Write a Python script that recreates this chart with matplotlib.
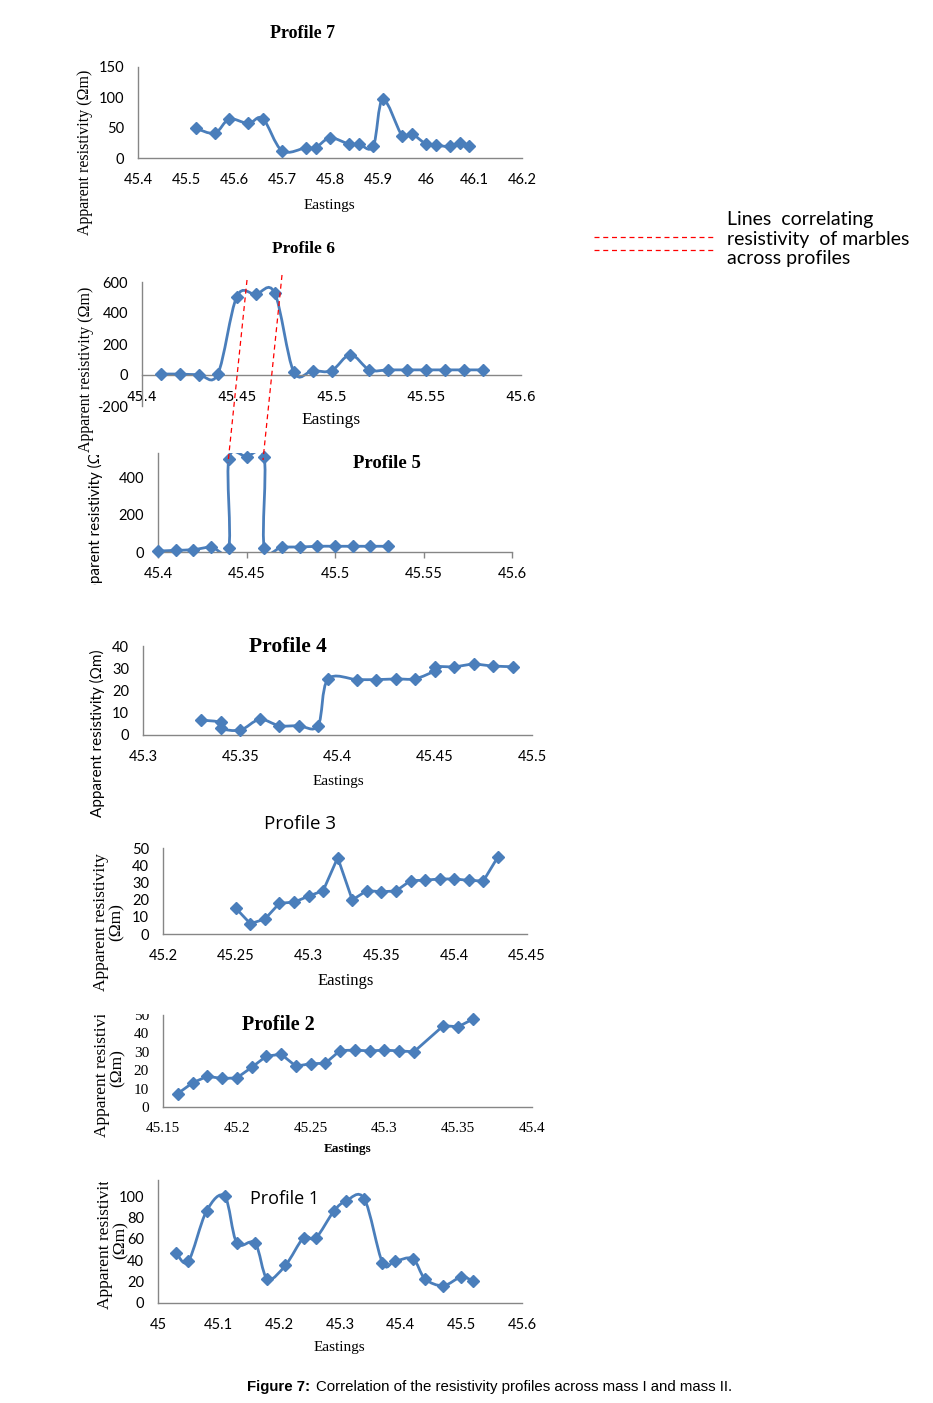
import numpy as np
import matplotlib
matplotlib.use("Agg")
import matplotlib.pyplot as plt
from matplotlib.path import Path
from matplotlib.patches import PathPatch
from matplotlib.lines import Line2D
from matplotlib.ticker import FixedLocator, FuncFormatter
from matplotlib.transforms import Bbox, TransformedBbox

# ------------------------------ data ------------------------------
# Profile 7
x7 = [45.52, 45.56, 45.59, 45.63, 45.66, 45.70, 45.75, 45.77, 45.80, 45.84,
      45.86, 45.89, 45.91, 45.95, 45.97, 46.00, 46.02, 46.05, 46.07, 46.09]
y7 = [49, 41, 64, 57, 65, 12, 17, 17, 33, 23, 23, 19, 97, 37, 40, 23, 21, 19, 24, 20]
xt7 = [45.4, 45.5, 45.6, 45.7, 45.8, 45.9, 46.0, 46.1, 46.2]
yt7 = [0, 50, 100, 150]

# Profile 6
x6 = [45.41, 45.42, 45.43, 45.44, 45.45, 45.46, 45.47, 45.48, 45.49,
      45.50, 45.51, 45.52, 45.53, 45.54, 45.55, 45.56, 45.57, 45.58]
y6 = [6, 6, 2, 6, 505, 520, 530, 22, 28, 28, 131, 33, 33, 33, 33, 33, 33, 33]
xt6 = [45.4, 45.45, 45.5, 45.55, 45.6]
yt6 = [-200, 0, 200, 400, 600]

# Profile 5
x5 = [45.40, 45.41, 45.42, 45.43, 45.44, 45.44, 45.45, 45.46, 45.46,
      45.47, 45.48, 45.49, 45.50, 45.51, 45.52, 45.53]
y5 = [5, 9, 13, 27, 22, 504, 516, 512, 24, 27, 27, 31, 31, 31, 31, 31]
xt5 = [45.4, 45.45, 45.5, 45.55, 45.6]
yt5 = [0, 200, 400]

# Profile 4
x4 = [45.33, 45.34, 45.34, 45.35, 45.36, 45.37, 45.38, 45.39, 45.395, 45.41,
      45.42, 45.43, 45.44, 45.45, 45.45, 45.46, 45.47, 45.48, 45.49]
y4 = [6.7, 5.7, 3.0, 2.2, 7.0, 4.2, 4.2, 4.2, 25.0, 24.9,
      24.9, 25.2, 25.3, 28.9, 30.7, 30.7, 31.8, 31.0, 30.7]
xt4 = [45.3, 45.35, 45.4, 45.45, 45.5]
yt4 = [0, 10, 20, 30, 40]

# Profile 3
x3 = [45.25, 45.26, 45.27, 45.28, 45.29, 45.30, 45.31, 45.32, 45.33, 45.34,
      45.35, 45.36, 45.37, 45.38, 45.39, 45.40, 45.41, 45.42, 45.43]
y3 = [15, 6, 8.7, 17.9, 18.5, 22, 25.2, 44.4, 19.8, 25.2,
      24.6, 25, 31, 31.3, 32, 32, 31.2, 30.8, 44.8]
xt3 = [45.2, 45.25, 45.3, 45.35, 45.4, 45.45]
yt3 = [0, 10, 20, 30, 40, 50]

# Profile 2
x2 = [45.16, 45.17, 45.18, 45.19, 45.20, 45.21, 45.22, 45.23, 45.24, 45.25,
      45.26, 45.27, 45.28, 45.29, 45.30, 45.31, 45.32, 45.34, 45.35, 45.36]
y2 = [7.3, 13.1, 16.7, 15.5, 15.8, 21.5, 27.6, 28.7, 22.2, 23.5,
      23.8, 30.7, 30.9, 30.5, 30.9, 30.5, 30, 44.2, 43.6, 47.8]
xt2 = [45.15, 45.2, 45.25, 45.3, 45.35, 45.4]
yt2 = [0, 10, 20, 30, 40, 50]

# Profile 1
x1 = [45.03, 45.05, 45.08, 45.11, 45.13, 45.16, 45.18, 45.21, 45.24, 45.26,
      45.29, 45.31, 45.34, 45.37, 45.39, 45.42, 45.44, 45.47, 45.50, 45.52]
y1 = [47, 39, 86, 99.7, 56, 56, 22.7, 35.2, 61, 60.7,
      86, 95.3, 97.5, 37.7, 39, 41.4, 22.7, 16.2, 24.3, 20.2]
xt1 = [45.0, 45.1, 45.2, 45.3, 45.4, 45.5, 45.6]
yt1 = [0, 20, 40, 60, 80, 100]

# ------------------------------ style ------------------------------
BLUE = "#4A7EBB"
GREY = "#868686"
SANS = "Lato"
SERIF = "Liberation Serif"
W, H = 933, 1403

fig = plt.figure(figsize=(W / 100, H / 100), dpi=100)
fig.patch.set_facecolor("white")


def add_ax(x0, ytop, x1, ybot):
    # axes placed by pixel box of the reference
    return fig.add_axes([x0 / W, 1 - ybot / H, (x1 - x0) / W, (ybot - ytop) / H])


def ftext(x, y, s, **kw):
    kw.setdefault("ha", "center")
    kw.setdefault("va", "center")
    return fig.text(x / W, 1 - y / H, s, **kw)


def clip_to(t, x0, ytop, x1, ybot):
    box = Bbox.from_extents(x0 / W, 1 - ybot / H, x1 / W, 1 - ytop / H)
    t.set_clip_box(TransformedBbox(box, fig.transFigure))
    t.set_clip_on(True)


def smooth_path(xs, ys):
    # Excel-like smoothed line: Catmull-Rom segments as cubic Beziers
    pts = np.column_stack([xs, ys]).astype(float)
    n = len(pts)
    verts = [pts[0]]
    codes = [Path.MOVETO]
    for i in range(n - 1):
        p0 = pts[max(i - 1, 0)]
        p1 = pts[i]
        p2 = pts[i + 1]
        p3 = pts[min(i + 2, n - 1)]
        verts += [p1 + (p2 - p0) / 6, p2 - (p3 - p1) / 6, p2]
        codes += [Path.CURVE4] * 3
    return Path(verts, codes)


def style_ax(ax, xt, yt, xlim, ylim, font=SANS, size=10.5, xtick_len=0):
    ax.set_xlim(*xlim)
    ax.set_ylim(*ylim)
    for s in ["top", "right"]:
        ax.spines[s].set_visible(False)
    for s in ["left", "bottom"]:
        ax.spines[s].set_color(GREY)
        ax.spines[s].set_linewidth(1)
    ax.xaxis.set_major_locator(FixedLocator(xt))
    ax.yaxis.set_major_locator(FixedLocator(yt))
    fmt = FuncFormatter(lambda v, p: f"{v:g}")
    ax.xaxis.set_major_formatter(fmt)
    ax.yaxis.set_major_formatter(fmt)
    ax.tick_params(axis="x", length=xtick_len, width=1, color=GREY, pad=11 - xtick_len)
    ax.tick_params(axis="y", length=0, pad=10)
    for lab in ax.get_xticklabels() + ax.get_yticklabels():
        lab.set_fontfamily(font)
        lab.set_fontsize(size)
    ax.patch.set_alpha(0)


def draw(ax, xs, ys, smooth=True):
    if smooth:
        ax.add_patch(PathPatch(smooth_path(xs, ys), fill=False, ec=BLUE, lw=2, zorder=2))
    else:
        ax.plot(xs, ys, color=BLUE, lw=2, zorder=2)
    ax.plot(xs, ys, "D", color=BLUE, ms=6, zorder=3, clip_on=False)


# ------------------------------ Profile 7 ------------------------------
ax7 = add_ax(138, 67, 522, 158)
style_ax(ax7, xt7, yt7, (45.4, 46.2), (0, 150))
draw(ax7, x7, y7)
ftext(303, 33, "Profile 7", family=SERIF, weight="bold", fontsize=13)
ftext(329, 205, "Eastings", family=SERIF, fontsize=11)
ftext(85, 152, "Apparent resistivity (\u03a9m)", family=SERIF, fontsize=11.5, rotation=90)

# ------------------------------ Profile 6 ------------------------------
ax6 = add_ax(142, 282, 521, 406)
style_ax(ax6, xt6, yt6, (45.4, 45.6), (-200, 600))
ax6.spines["bottom"].set_position(("data", 0))
draw(ax6, x6, y6)
ftext(303, 249, "Profile 6", family=SERIF, weight="bold", fontsize=12.5)
ftext(331, 420, "Eastings", family=SERIF, fontsize=12.5)
ftext(86, 369, "Apparent resistivity (\u03a9m)", family=SERIF, fontsize=11.5, rotation=90)

# ------------------------------ Profile 5 ------------------------------
ax5 = add_ax(158, 453, 512, 552)
style_ax(ax5, xt5, yt5, (45.4, 45.6), (0, 535), xtick_len=4)
draw(ax5, x5, y5)
ftext(387, 464, "Profile 5", family=SERIF, weight="bold", fontsize=13.5)
t5 = ftext(95, 518, "Apparent resistivity (\u03a9m)", family=SANS, fontsize=11, rotation=90)
clip_to(t5, 80, 455, 110, 585)

# ------------------------------ Profile 4 ------------------------------
ax4 = add_ax(143, 646, 532, 735)
style_ax(ax4, xt4, yt4, (45.3, 45.5), (0, 40))
draw(ax4, x4, y4)
ftext(288, 647, "Profile 4", family=SERIF, weight="bold", fontsize=15.5)
ftext(338, 781, "Eastings", family=SERIF, fontsize=11)
ftext(97, 733, "Apparent resistivity (\u03a9m)", family=SANS, fontsize=11, rotation=90)

# ------------------------------ Profile 3 ------------------------------
ax3 = add_ax(163, 848, 527, 934)
style_ax(ax3, xt3, yt3, (45.2, 45.45), (0, 50))
draw(ax3, x3, y3, smooth=False)
ftext(300, 824, "Profile 3", family="Open Sans", fontsize=13.5)
ftext(346, 981, "Eastings", family=SERIF, fontsize=12)
ftext(109, 922, "Apparent resistivity\n(\u03a9m)", family=SERIF, fontsize=12.5,
      rotation=90, linespacing=1.0, multialignment="center")

# ------------------------------ Profile 2 ------------------------------
ax2 = add_ax(163, 1015, 532, 1107)
style_ax(ax2, xt2, yt2, (45.15, 45.4), (0, 50), font=SERIF, size=11)
for lab in ax2.get_yticklabels():
    clip_to(lab, 100, 1014, 170, 1130)
draw(ax2, x2, y2, smooth=False)
ftext(278, 1025, "Profile 2", family=SERIF, weight="bold", fontsize=14.5)
ftext(348, 1149, "Eastings", family=SERIF, weight="bold", fontsize=9.5)
t2 = ftext(110, 1068, "Apparent resistivity\n(\u03a9m)", family=SERIF, fontsize=12.5,
           rotation=90, linespacing=1.0, multialignment="center")
clip_to(t2, 80, 1015, 140, 1200)

# ------------------------------ Profile 1 ------------------------------
ax1 = add_ax(158, 1180, 522, 1303)
style_ax(ax1, xt1, yt1, (45.0, 45.6), (0, 115))
draw(ax1, x1, y1)
ftext(285, 1199, "Profile 1", family="Open Sans", fontsize=13)
ftext(339, 1348, "Eastings", family=SERIF, fontsize=11)
t1 = ftext(113, 1240, "Apparent resistivity\n(\u03a9m)", family=SERIF, fontsize=12.5,
           rotation=90, linespacing=1.0, multialignment="center")
clip_to(t1, 80, 1182, 140, 1330)

# ------------------------------ correlation lines and key ------------------------------
red_lines = [((247, 280), (228, 463)), ((282, 275), (263, 460)),
             ((594, 237), (713, 237)), ((594, 250), (713, 250))]
for (xa, ya), (xb, yb) in red_lines:
    fig.lines.append(Line2D([xa / W, xb / W], [1 - ya / H, 1 - yb / H],
                            transform=fig.transFigure, color="red", lw=0.9,
                            dashes=(4, 3), zorder=10))
ftext(727, 239, "Lines  correlating\nresistivity  of marbles\nacross profiles",
      family=SANS, fontsize=14, ha="left", linespacing=1.2)

# ------------------------------ caption ------------------------------
ftext(247, 1387, "Figure 7:", family="Liberation Sans", weight="bold", fontsize=10.8, ha="left")
ftext(316, 1387, "Correlation of the resistivity profiles across mass I and mass II.",
      family="Liberation Sans", fontsize=10.8, ha="left")

fig.savefig("out.png", dpi=100)
